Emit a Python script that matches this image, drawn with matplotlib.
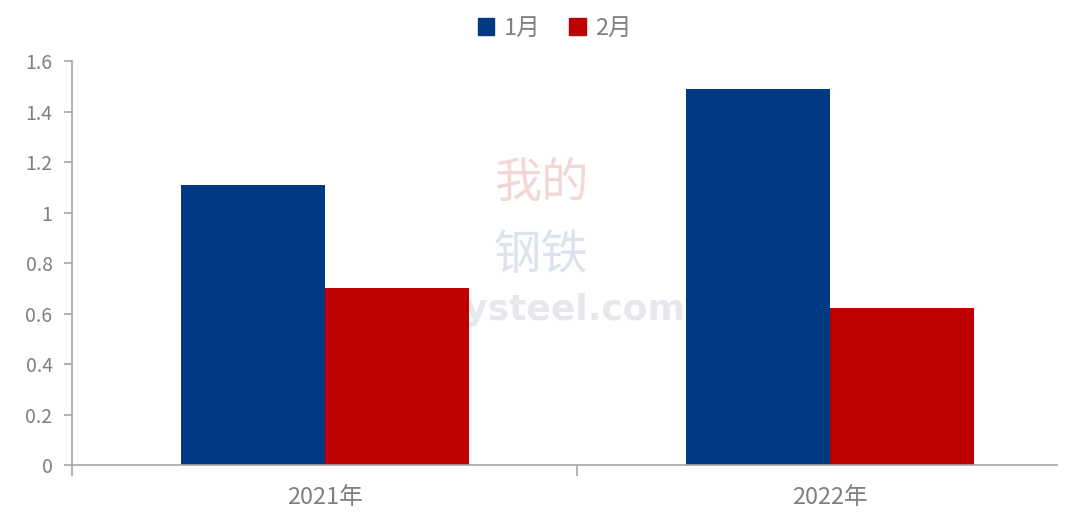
import matplotlib
matplotlib.use("Agg")
import matplotlib.pyplot as plt
import numpy as np
from matplotlib.patches import Patch

categories = ["2021年", "2022年"]
series_names = ["1月", "2月"]
jan_values = [1.11, 1.49]
feb_values = [0.70, 0.62]
yticks = [0, 0.2, 0.4, 0.6, 0.8, 1, 1.2, 1.4, 1.6]
ytick_labels = ["0", "0.2", "0.4", "0.6", "0.8", "1", "1.2", "1.4", "1.6"]

colors = ["#003A84", "#BE0000"]
gray = "#808080"
fam = ["Noto Sans CJK SC", "DejaVu Sans"]
plt.rcParams['font.family'] = fam

fig = plt.figure(figsize=(10.71, 5.12), dpi=100)
ax = fig.add_axes([0.0672, 0.0918, 0.92, 0.789])

x = np.arange(len(categories))
w = 0.285
ax.bar(x - w / 2, jan_values, width=w, color=colors[0], label=series_names[0], zorder=2)
ax.bar(x + w / 2, feb_values, width=w, color=colors[1], label=series_names[1], zorder=2)

ax.set_xlim(-0.5, 1.45)
ax.set_ylim(0, 1.6)
ax.set_yticks(yticks)
ax.set_yticklabels(ytick_labels)
ax.set_xticks([-0.5, 0.5], minor=True)
ax.set_xticks(x)
ax.set_xticklabels(categories)
ax.tick_params(axis='x', which='major', length=0, pad=15, labelsize=17, labelcolor=gray)
ax.tick_params(axis='x', which='minor', length=8, color="#A6A6A6", width=1.2)
ax.tick_params(axis='y', length=6, color="#A6A6A6", width=1.2, labelsize=14, labelcolor=gray, pad=8)

for s in ["top", "right"]:
    ax.spines[s].set_visible(False)
for s in ["left", "bottom"]:
    ax.spines[s].set_color("#A6A6A6")
    ax.spines[s].set_linewidth(1.2)

# faint watermark behind the bars
ax.text(0.505, 0.64, "我的", fontsize=34, color="#F3D6D6", transform=fig.transFigure,
        ha="center", va="center", family=["Noto Sans CJK SC"], zorder=1)
ax.text(0.505, 0.50, "钢铁", fontsize=34, color="#DDE2EC", transform=fig.transFigure,
        ha="center", va="center", family=["Noto Sans CJK SC"], zorder=1)
ax.text(0.52, 0.395, "Mysteel.com", fontsize=26, color="#E6E8EE", transform=fig.transFigure,
        ha="center", va="center", fontweight="bold", family=["DejaVu Sans"], zorder=1)

handles = [Patch(color=colors[0], label=series_names[0]),
           Patch(color=colors[1], label=series_names[1])]
fig.legend(handles=handles, loc="center", bbox_to_anchor=(0.518, 0.945), ncol=2,
           frameon=False, fontsize=17, labelcolor=gray, handlelength=0.7,
           handleheight=0.7, handletextpad=0.4, columnspacing=1.2)

fig.savefig("out.png", dpi=100)
